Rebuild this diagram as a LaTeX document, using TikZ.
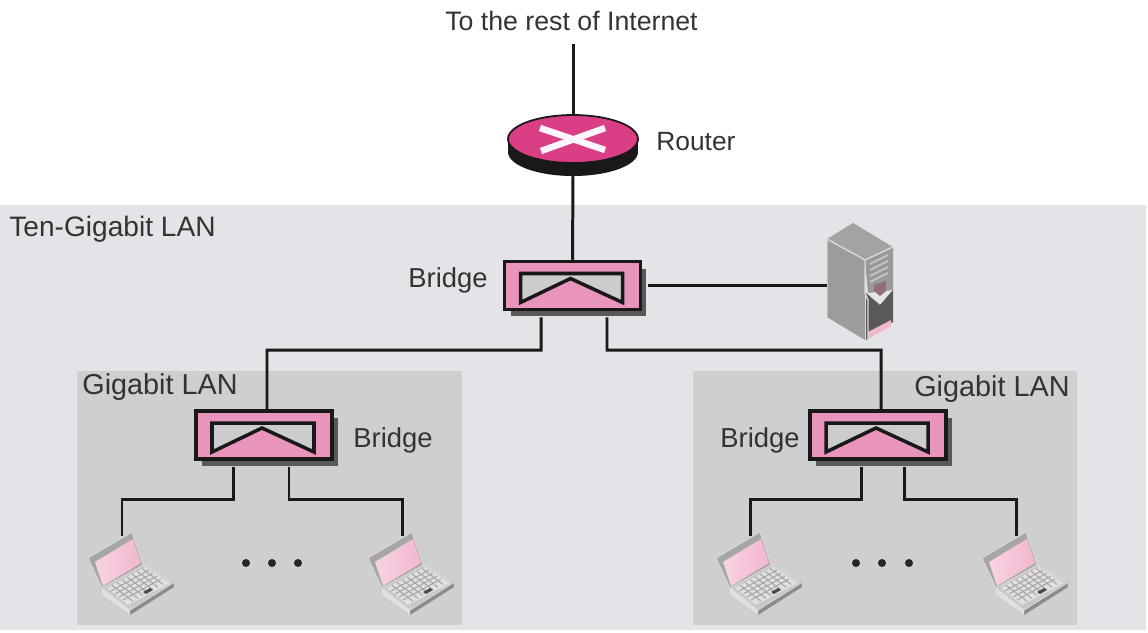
\documentclass[tikz,border=0pt]{standalone}
\usepackage{fontspec}
\setmainfont{Liberation Sans}
\usetikzlibrary{positioning, shapes.geometric, shadows}
\definecolor{lanbg}{HTML}{E3E3E8}
\definecolor{subbg}{HTML}{CFCFD2}
\definecolor{bridgepink}{HTML}{E894BC}
\definecolor{routerpink}{HTML}{DA3F85}
\definecolor{lcdpink}{HTML}{F2B6CF}
\definecolor{srvgray}{HTML}{9C9C9C}
\tikzset{
  lbl/.style={font=\fontsize{16}{18}\selectfont, text=black!80, inner sep=0pt},
  link/.style={draw=black!90, line width=1.7pt},
  dot/.style={circle, fill=black!85, minimum size=0.16cm, inner sep=0pt},
  bridge/.style={rectangle, draw=black!90, line width=2pt, fill=bridgepink,
    minimum width=2.72cm, minimum height=0.96cm, inner sep=0pt,
    general shadow={fill=black!65, shadow xshift=0.12cm, shadow yshift=-0.14cm}},
}
% the notch inside a bridge
\newcommand{\bridgemark}[1]{
  \draw[black!90, fill=black!20, line width=2pt]
    ([shift={(-52,-12)}]#1.center) -- ([shift={(50,-12)}]#1.center)
    -- ([shift={(50,17)}]#1.center) -- ([shift={(-2,-7)}]#1.center)
    -- ([shift={(-52,17)}]#1.center) -- cycle;
}
% laptop: name, left, top
\newcommand{\laptop}[3]{
  \begin{scope}[shift={(#2,#3)}]
    \coordinate (#1) at (34,4);
    \fill[black!45] (14,63) -- (42,83) -- (86,55) -- (85,49) -- (42,72) -- cycle;
    \draw[white!85!black, fill=black!22, line width=0.5pt] (14,56) -- (55,33) -- (85,51) -- (42,78) -- cycle;
    \fill[black!12] (14,56) -- (42,78) -- (42,83) -- (14,63) -- cycle;
    \draw[white!85!black, fill=black!35, line width=0.5pt] (0,26) -- (44,0) -- (55,33) -- (14,56) -- cycle;
    \shade[left color=lcdpink!60, right color=lcdpink] (7,30) -- (45,7) -- (53,31) -- (15,54) -- cycle;
    \fill[black!12] (19,56) -- (57,35) -- (82,51) -- (40,73) -- cycle;
    \foreach \k in {1,...,4}
      \draw[black!35, line width=0.6pt] (19+4*\k,56+3*\k) -- (57+4*\k,35+3*\k);
    \foreach \k in {1,...,7}
      \draw[black!35, line width=0.6pt] (19+5*\k,56-2.8*\k) -- (40+5*\k,72-2.8*\k);
    \fill[black!70] (55,60) -- (62,56) -- (65,58) -- (58,62) -- cycle;
  \end{scope}
}

\begin{document}
\begin{tikzpicture}[x=0.02cm, y=-0.02cm]
    \useasboundingbox (0,0) rectangle (1148,632);
    % panels
    \fill[lanbg] (0,205) rectangle (1146,630);
    \fill[subbg] (77,371) rectangle (462,625);
    \fill[subbg] (693,371) rectangle (1077,625);

    % labels
    \node[lbl, font=\fontsize{15.2}{18}\selectfont] (top) at (571.5,21) {To the rest of Internet};
    \node[lbl, font=\fontsize{15}{18}\selectfont, anchor=west] (rtext) at (656,142) {Router};
    \node[lbl, anchor=west] (ten) at (9,229) {Ten-Gigabit LAN};
    \node[lbl, font=\fontsize{15.6}{18}\selectfont, anchor=west] (t0) at (408,280) {Bridge};
    \node[lbl, font=\fontsize{15.6}{18}\selectfont, anchor=west] (t1) at (353,440) {Bridge};
    \node[lbl, font=\fontsize{15.6}{18}\selectfont, anchor=west] (t2) at (720,440) {Bridge};
    \node[lbl, font=\fontsize{16.4}{18}\selectfont, anchor=west] (g1) at (82,387) {Gigabit LAN};
    \node[lbl, font=\fontsize{16.4}{18}\selectfont, anchor=east] (g2) at (1070,389) {Gigabit LAN};

    % router
    \fill[black!90] (508,139) rectangle (638,152);
    \fill[black!90] (573,152) ellipse [x radius=65, y radius=24];
    \node[ellipse, draw=black!90, line width=1pt, fill=routerpink, minimum width=2.6cm,
      minimum height=0.96cm, inner sep=0pt] (rt) at (573,139) {};
    \draw[white!95!routerpink, line width=1.3mm] (540,128) -- (605,150);
    \draw[white!95!routerpink, line width=1.3mm] (541,151) -- (605,128);

    % bridges
    \node[bridge] (bc) at (572.5,285.5) {};
    \node[bridge] (bl) at (264,435) {};
    \node[bridge] (br) at (878,435) {};
    \bridgemark{bc}
    \bridgemark{bl}
    \bridgemark{br}

    % server
    \coordinate (srv) at (827,285.5);
    \fill[srvgray] (827,239) -- (865,260) -- (865,340) -- (827,317) -- cycle;
    \fill[black!36] (827,239) -- (853,223) -- (893,247) -- (865,260) -- cycle;
    \fill[black!40] (865,260) -- (893,247) -- (893,290) -- (868,293) -- cycle;
    \fill[black!65] (866,293) -- (880,305) -- (893,290) -- (893,322) -- (866,340) -- cycle;
    \fill[lcdpink] (868,332) -- (891,320) -- (891,326) -- (868,339) -- cycle;
    \fill[lcdpink!60!black] (874,285) -- (886,281) -- (886,291) -- (880,296) -- (874,291) -- cycle;
    \foreach \k in {0,...,3}
      \draw[black!22, line width=1pt] (870,264+6*\k) -- (888,255+6*\k);
    \draw[black!15, line width=0.8pt] (827,317) -- (827,239) -- (865,260) -- (893,247);
    \draw[black!15, line width=0.8pt] (865,260) -- (865,293) -- (868,300) -- (868,340);

    % laptops
    \laptop{l1}{88}{532}
    \laptop{l2}{368}{532}
    \laptop{l3}{716}{532}
    \laptop{l4}{982}{532}

    % dots
    \node[dot] (d1) at (246,563) {};
    \node[dot] (d2) at (272,563) {};
    \node[dot] (d3) at (298,563) {};
    \node[dot] (d4) at (856,563) {};
    \node[dot] (d5) at (882,563) {};
    \node[dot] (d6) at (909,563) {};

    % joints
    \coordinate (j1) at (267,350);
    \coordinate (j2) at (881,350);
    \coordinate (j3) at (122,499);
    \coordinate (j4) at (402,499);
    \coordinate (j5) at (750,499);
    \coordinate (j6) at (1016,499);

    % links
    \draw[link] (rt.north) -- ++(0,-70);
    \draw[link] ([yshift=-0.2cm]rt.south) -- (bc.north);
    \draw[link] ([xshift=0.12cm]bc.east) -- (srv);
    \draw[link] ([xshift=-0.63cm,yshift=-0.12cm]bc.south) |- (j1) -- ([xshift=0.06cm]bl.north);
    \draw[link] ([xshift=0.69cm,yshift=-0.12cm]bc.south) |- (j2) -- ([xshift=0.06cm]br.north);
    \draw[link] ([xshift=-0.62cm,yshift=-0.12cm]bl.south) |- (j3) -- (l1);
    \draw[link] ([xshift=0.5cm,yshift=-0.12cm]bl.south) |- (j4) -- (l2);
    \draw[link] ([xshift=-0.34cm,yshift=-0.12cm]br.south) |- (j5) -- (l3);
    \draw[link] ([xshift=0.52cm,yshift=-0.12cm]br.south) |- (j6) -- (l4);
\end{tikzpicture}
\end{document}
